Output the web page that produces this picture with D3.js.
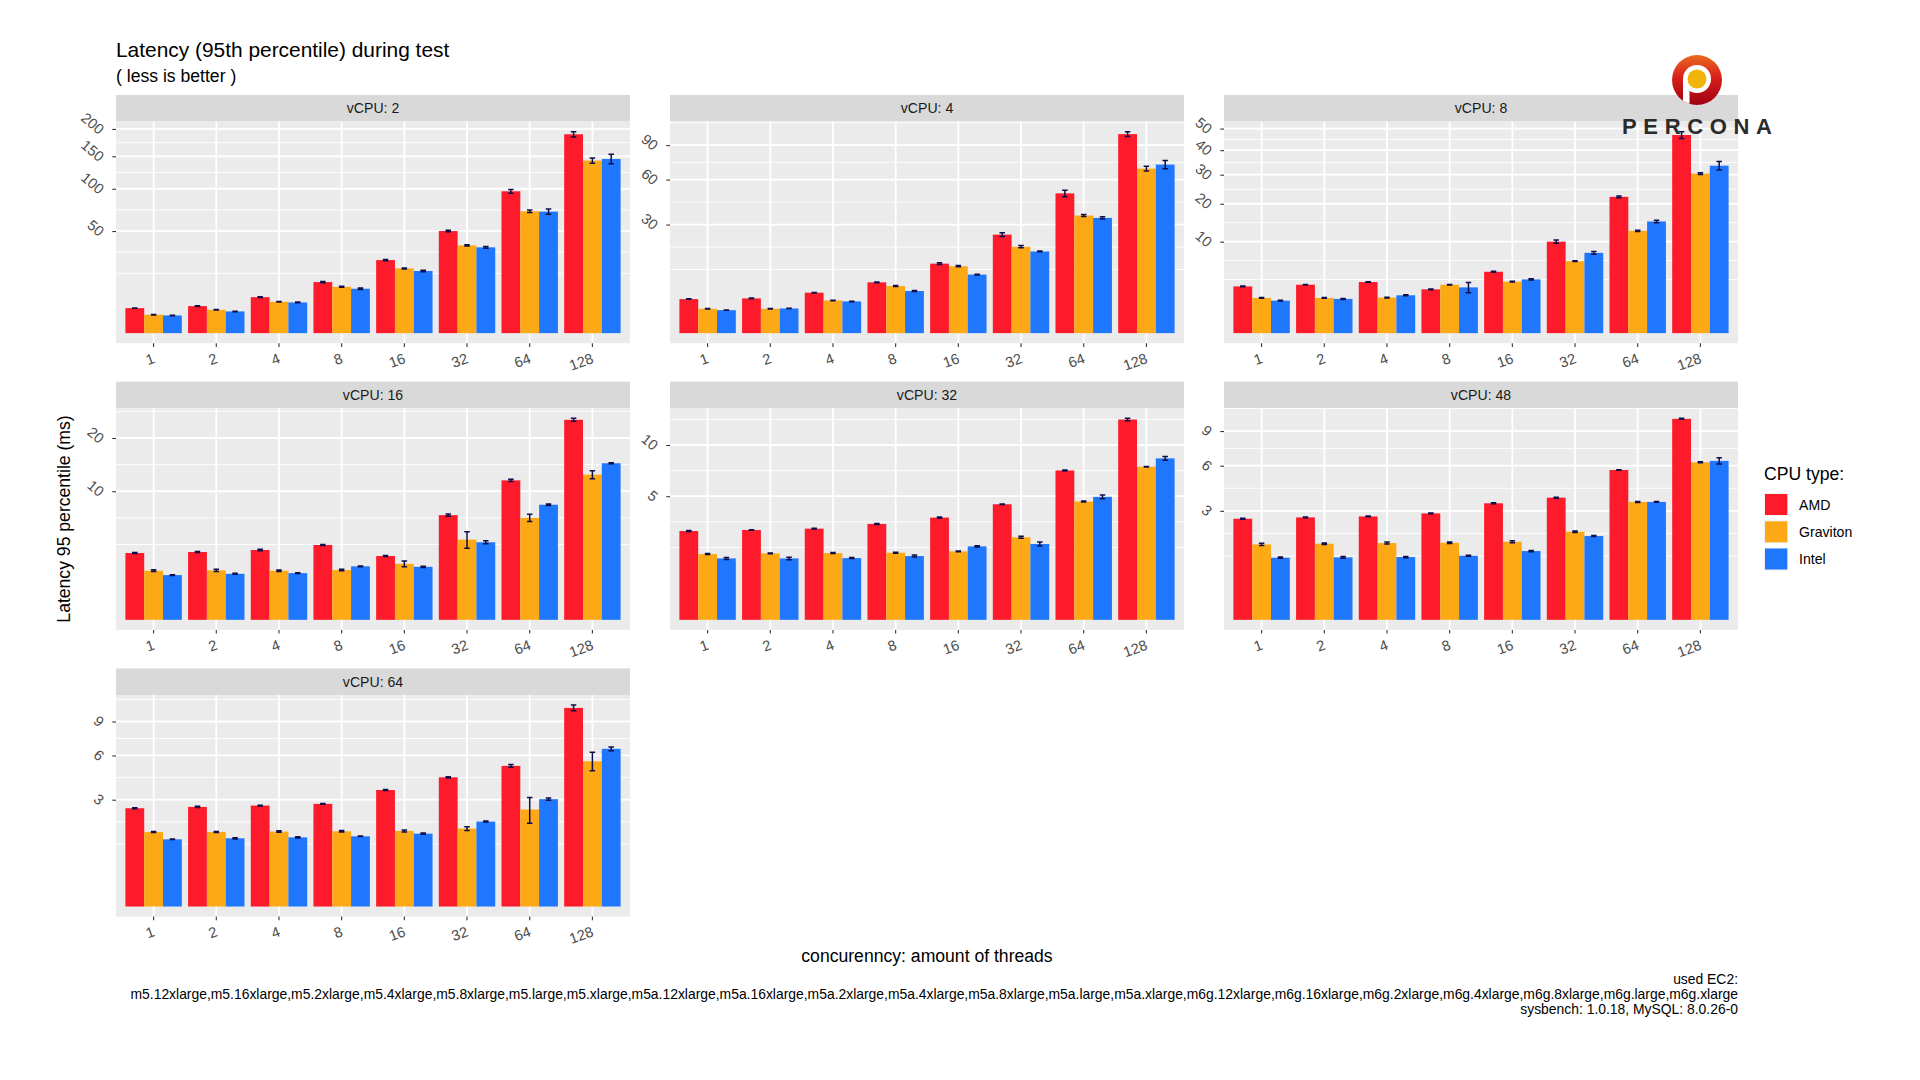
<!DOCTYPE html>
<html><head><meta charset="utf-8">
<script src="https://cdn.jsdelivr.net/npm/d3@7"></script>
<style>body{margin:0;background:#fff}svg{display:block}</style>
</head><body>
<svg id="chart" width="1920" height="1080"></svg>
<script>
// ---------------- data ----------------
const threads = ["1","2","4","8","16","32","64","128"];
const seriesNames = ["AMD","Graviton","Intel"];
const seriesColors = ["#fc1a2b","#fda916","#1e77fc"];
const vcpus = [2,4,8,16,32,48,64];

const ticks_v2  = [50,100,150,200];
const ticks_v4  = [30,60,90];
const ticks_v8  = [10,20,30,40,50];
const ticks_v16 = [10,20];
const ticks_v32 = [5,10];
const ticks_v48 = [3,6,9];
const ticks_v64 = [3,6,9];

const amd_v2   = [3.0, 3.5, 6.2, 12.5, 25.6, 50.0, 96.5, 189.7];
const grav_v2  = [1.62, 2.62, 4.72, 10.3, 20.1, 36.9, 71.2, 142.8];
const intel_v2 = [1.5, 2.26, 4.52, 9.45, 18.5, 35.3, 70.8, 145.5];
const errAmd_v2   = [0.05, 0.1, 0.15, 0.3, 0.4, 0.8, 2.5, 5];
const errGrav_v2  = [0.05, 0.06, 0.1, 0.2, 0.3, 0.5, 1.5, 4.5];
const errIntel_v2 = [0.05, 0.06, 0.1, 0.3, 0.5, 0.8, 3, 8];

const amd_v4   = [2.95, 3.07, 4.16, 6.57, 12.3, 24.7, 49.7, 100.8];
const grav_v4  = [1.51, 1.51, 2.72, 5.65, 11.4, 19.0, 35.2, 68.9];
const intel_v4 = [1.34, 1.55, 2.56, 4.51, 8.72, 16.97, 33.8, 72.3];
const errAmd_v4   = [0.04, 0.05, 0.06, 0.1, 0.35, 0.9, 2.3, 2.5];
const errGrav_v4  = [0.03, 0.03, 0.04, 0.1, 0.2, 0.5, 0.6, 2];
const errIntel_v4 = [0.02, 0.02, 0.04, 0.1, 0.12, 0.15, 0.6, 3.5];

const amd_v8   = [2.61, 2.80, 3.12, 2.29, 4.50, 10.0, 22.2, 46.9];
const grav_v8  = [1.48, 1.48, 1.51, 2.80, 3.16, 6.19, 12.5, 30.4];
const intel_v8 = [1.26, 1.40, 1.71, 2.50, 3.45, 7.70, 14.9, 33.5];
const errAmd_v8   = [0.05, 0.04, 0.04, 0.03, 0.06, 0.35, 0.3, 1.6];
const errGrav_v8  = [0.03, 0.03, 0.03, 0.04, 0.05, 0.06, 0.15, 0.3];
const errIntel_v8 = [0.03, 0.04, 0.04, 0.55, 0.07, 0.25, 0.35, 1.7];

const amd_v16   = [2.70, 2.78, 2.95, 3.39, 2.46, 6.63, 11.77, 24.2];
const grav_v16  = [1.46, 1.48, 1.46, 1.50, 1.90, 3.89, 6.29, 12.75];
const intel_v16 = [1.21, 1.28, 1.32, 1.73, 1.70, 3.64, 8.01, 14.83];
const errAmd_v16   = [0.04, 0.04, 0.06, 0.04, 0.04, 0.15, 0.2, 0.35];
const errGrav_v16  = [0.05, 0.06, 0.04, 0.05, 0.2, 0.8, 0.45, 0.7];
const errIntel_v16 = [0.02, 0.03, 0.02, 0.02, 0.04, 0.15, 0.1, 0.1];

const amd_v32   = [2.58, 2.64, 2.72, 3.01, 3.42, 4.37, 7.30, 13.13];
const grav_v32  = [1.415, 1.444, 1.458, 1.473, 1.532, 2.23, 4.58, 7.67];
const intel_v32 = [1.234, 1.234, 1.247, 1.330, 1.765, 1.88, 4.95, 8.53];
const errAmd_v32   = [0.03, 0.02, 0.02, 0.03, 0.04, 0.02, 0.05, 0.15];
const errGrav_v32  = [0.02, 0.02, 0.02, 0.02, 0.02, 0.05, 0.04, 0.03];
const errIntel_v32 = [0.04, 0.05, 0.02, 0.04, 0.03, 0.1, 0.15, 0.2];

const amd_v48   = [2.58, 2.65, 2.70, 2.86, 3.43, 3.77, 5.67, 10.20];
const grav_v48  = [1.437, 1.463, 1.489, 1.502, 1.541, 1.961, 3.51, 6.27];
const intel_v48 = [0.974, 0.984, 0.995, 1.037, 1.194, 1.773, 3.51, 6.38];
const errAmd_v48   = [0.02, 0.02, 0.02, 0.02, 0.03, 0.03, 0.02, 0.05];
const errGrav_v48  = [0.04, 0.03, 0.04, 0.03, 0.04, 0.03, 0.03, 0.04];
const errIntel_v48 = [0.02, 0.03, 0.02, 0.02, 0.02, 0.02, 0.02, 0.25];

const amd_v64   = [2.54, 2.61, 2.68, 2.77, 3.57, 4.39, 5.20, 10.37];
const grav_v64  = [1.462, 1.462, 1.476, 1.489, 1.502, 1.597, 2.475, 5.55];
const intel_v64 = [1.187, 1.223, 1.259, 1.296, 1.397, 1.898, 3.03, 6.54];
const errAmd_v64   = [0.03, 0.03, 0.02, 0.02, 0.03, 0.04, 0.1, 0.3];
const errGrav_v64  = [0.02, 0.02, 0.03, 0.03, 0.04, 0.08, 0.65, 0.7];
const errIntel_v64 = [0.01, 0.02, 0.02, 0.01, 0.02, 0.02, 0.06, 0.15];

const titleText = "Latency (95th percentile) during test";
const subtitleText = "( less is better )";
const yTitle = "Latency 95 percentile (ms)";
const xTitle = "concurenncy: amount of threads";
const legendTitle = "CPU type:";
const captionLines = [
  "used EC2:",
  "m5.12xlarge,m5.16xlarge,m5.2xlarge,m5.4xlarge,m5.8xlarge,m5.large,m5.xlarge,m5a.12xlarge,m5a.16xlarge,m5a.2xlarge,m5a.4xlarge,m5a.8xlarge,m5a.large,m5a.xlarge,m6g.12xlarge,m6g.16xlarge,m6g.2xlarge,m6g.4xlarge,m6g.8xlarge,m6g.large,m6g.xlarge",
  "sysbench: 1.0.18, MySQL: 8.0.26-0"
];

const panels = [
  {vcpu:2,  ticks:ticks_v2,  vals:[amd_v2,grav_v2,intel_v2],    errs:[errAmd_v2,errGrav_v2,errIntel_v2]},
  {vcpu:4,  ticks:ticks_v4,  vals:[amd_v4,grav_v4,intel_v4],    errs:[errAmd_v4,errGrav_v4,errIntel_v4]},
  {vcpu:8,  ticks:ticks_v8,  vals:[amd_v8,grav_v8,intel_v8],    errs:[errAmd_v8,errGrav_v8,errIntel_v8]},
  {vcpu:16, ticks:ticks_v16, vals:[amd_v16,grav_v16,intel_v16], errs:[errAmd_v16,errGrav_v16,errIntel_v16]},
  {vcpu:32, ticks:ticks_v32, vals:[amd_v32,grav_v32,intel_v32], errs:[errAmd_v32,errGrav_v32,errIntel_v32]},
  {vcpu:48, ticks:ticks_v48, vals:[amd_v48,grav_v48,intel_v48], errs:[errAmd_v48,errGrav_v48,errIntel_v48]},
  {vcpu:64, ticks:ticks_v64, vals:[amd_v64,grav_v64,intel_v64], errs:[errAmd_v64,errGrav_v64,errIntel_v64]}
];

// ---------------- drawing ----------------
const FONT = "'Liberation Sans', Arial, Helvetica, sans-serif";
const svg = d3.select("#chart").style("font-family", FONT);
svg.append("rect").attr("width",1920).attr("height",1080).attr("fill","#fff");

const colX = [116, 670, 1224];
const rowY = [95, 381.7, 668.4];
const PW = 514, SH = 26.6, PH = 221.6;
const TICKFS = 14.6;

function minorBreaks(ticks, lo, hi) {
  let b = ticks.map(Math.sqrt);
  const bd = b[1] - b[0];
  if (lo < b[0]) b = [b[0] - bd].concat(b);
  if (hi > b[b.length-1]) b = b.concat([b[b.length-1] + bd]);
  const out = [];
  for (let i = 0; i < b.length - 1; i++) out.push(b[i], (b[i] + b[i+1]) / 2);
  out.push(b[b.length-1]);
  return out.filter(s => s >= lo && s <= hi).map(s => s < 0 ? -s*s : s*s);
}

const x = d3.scaleBand().domain(threads).range([0, PW]).paddingInner(0.1).paddingOuter(0.15);
const xs = d3.scaleBand().domain(seriesNames).range([0, x.bandwidth()]);

panels.forEach((p, i) => {
  const gx = colX[i % 3], gy = rowY[Math.floor(i / 3)];
  const g = svg.append("g").attr("transform", `translate(${gx},${gy})`);
  // strip
  g.append("rect").attr("width", PW).attr("height", SH).attr("fill", "#d9d9d9");
  g.append("text").attr("x", PW/2).attr("y", SH/2).attr("dy", "0.36em")
    .attr("text-anchor", "middle").attr("font-size", 14.1).attr("fill", "#1a1a1a")
    .text("vCPU: " + p.vcpu);

  const pg = g.append("g").attr("transform", `translate(0,${SH})`);
  pg.append("rect").attr("width", PW).attr("height", PH).attr("fill", "#ebebeb");

  let maxTop = 0;
  p.vals.forEach((arr, k) => arr.forEach((v, j) => { maxTop = Math.max(maxTop, v + p.errs[k][j]); }));
  const R = Math.sqrt(maxTop);
  const lo = -0.05 * R, hi = 1.05 * R;
  const y = d3.scaleSqrt().domain([-(lo*lo), hi*hi]).range([PH, 0]);

  // minor grid
  pg.append("g").selectAll("line").data(minorBreaks(p.ticks, lo, hi)).join("line")
    .attr("x1", 0).attr("x2", PW).attr("y1", d => y(d)).attr("y2", d => y(d))
    .attr("stroke", "#fff").attr("stroke-width", 0.9);
  // major grid
  pg.append("g").selectAll("line").data(p.ticks).join("line")
    .attr("x1", 0).attr("x2", PW).attr("y1", d => y(d)).attr("y2", d => y(d))
    .attr("stroke", "#fff").attr("stroke-width", 1.8);
  pg.append("g").selectAll("line").data(threads).join("line")
    .attr("y1", 0).attr("y2", PH)
    .attr("x1", d => x(d) + x.bandwidth()/2).attr("x2", d => x(d) + x.bandwidth()/2)
    .attr("stroke", "#fff").attr("stroke-width", 1.8);

  // bars
  const rows = [];
  seriesNames.forEach((s, k) => threads.forEach((t, j) => {
    rows.push({t, s, k, v: p.vals[k][j], e: p.errs[k][j]});
  }));
  pg.append("g").selectAll("rect").data(rows).join("rect")
    .attr("x", d => x(d.t) + xs(d.s))
    .attr("width", xs.bandwidth())
    .attr("y", d => y(d.v))
    .attr("height", d => y(0) - y(d.v))
    .attr("fill", d => seriesColors[d.k]);

  // error bars
  const cw = 5.5;
  pg.append("g").selectAll("path").data(rows).join("path")
    .attr("d", d => {
      const cx = x(d.t) + xs(d.s) + xs.bandwidth()/2;
      const yt = y(d.v + d.e), yb = y(d.v - d.e);
      return `M${cx-cw/2},${yt}H${cx+cw/2}M${cx},${yt}V${yb}M${cx-cw/2},${yb}H${cx+cw/2}`;
    })
    .attr("fill", "none").attr("stroke", "#0e0e4c").attr("stroke-width", 1.5);

  // y axis
  const ya = pg.append("g").call(d3.axisLeft(y).tickValues(p.ticks).tickSize(3.7).tickFormat(d3.format("d")));
  ya.select(".domain").remove();
  ya.selectAll(".tick line").attr("stroke", "#333").attr("stroke-width", 1.1);
  ya.selectAll(".tick text")
    .attr("x", 0).attr("dy", "0.35em")
    .attr("transform", "translate(-14,1.8) rotate(40)")
    .attr("text-anchor", "end").attr("font-size", TICKFS).attr("fill", "#4d4d4d")
    .attr("font-family", FONT);

  // x axis
  const xa = pg.append("g").attr("transform", `translate(0,${PH})`).call(d3.axisBottom(x).tickSize(3.7));
  xa.select(".domain").remove();
  xa.selectAll(".tick line").attr("stroke", "#333").attr("stroke-width", 1.1);
  xa.selectAll(".tick text")
    .attr("y", 0).attr("x", 0).attr("dy", "0.72em")
    .attr("transform", "translate(-1.5,9.3) rotate(-20)")
    .attr("text-anchor", "end").attr("font-size", TICKFS).attr("fill", "#4d4d4d")
    .attr("font-family", FONT);
});

// titles
svg.append("text").attr("x", 116).attr("y", 57).attr("font-size", 20.9).attr("fill", "#000").text(titleText);
svg.append("text").attr("x", 116).attr("y", 82).attr("font-size", 17.6).attr("fill", "#000").text(subtitleText);

svg.append("text").attr("transform", "translate(64,519) rotate(-90)").attr("dy", "0.35em")
  .attr("text-anchor", "middle").attr("font-size", 17.6).attr("fill", "#000").text(yTitle);
svg.append("text").attr("x", 927).attr("y", 962).attr("text-anchor", "middle")
  .attr("font-size", 17.6).attr("fill", "#000").text(xTitle);

// caption
svg.append("g").selectAll("text").data(captionLines).join("text")
  .attr("x", 1738).attr("y", (d, i) => 984 + i * 15)
  .attr("text-anchor", "end").attr("font-size", 13.9).attr("fill", "#000").text(d => d);

// legend
const lg = svg.append("g");
lg.append("text").attr("x", 1764).attr("y", 480).attr("font-size", 17.6).attr("fill", "#000").text(legendTitle);
const keyTop = [494, 521.3, 548.5];
seriesNames.forEach((s, k) => {
  lg.append("rect").attr("x", 1764).attr("y", keyTop[k] - 1).attr("width", 24).attr("height", 23).attr("fill", "#f2f2f2");
  lg.append("rect").attr("x", 1765).attr("y", keyTop[k]).attr("width", 22.3).attr("height", 21).attr("fill", seriesColors[k]);
  lg.append("text").attr("x", 1799).attr("y", keyTop[k] + 10.5).attr("dy", "0.36em")
    .attr("font-size", 14.1).attr("fill", "#000").text(s);
});

// Percona logo
const defs = svg.append("defs");
const grad = defs.append("linearGradient").attr("id", "pgrad").attr("x1", 0).attr("y1", 0).attr("x2", 0).attr("y2", 1);
grad.append("stop").attr("offset", "0%").attr("stop-color", "#ec6a1e");
grad.append("stop").attr("offset", "45%").attr("stop-color", "#d8201c");
grad.append("stop").attr("offset", "100%").attr("stop-color", "#9e0010");
defs.append("clipPath").attr("id", "pclip").append("circle").attr("cx", 1697).attr("cy", 80).attr("r", 25);
const logo = svg.append("g");
logo.append("circle").attr("cx", 1697).attr("cy", 80).attr("r", 25).attr("fill", "url(#pgrad)");
const inner = logo.append("g").attr("clip-path", "url(#pclip)");
inner.append("rect").attr("x", 1683).attr("y", 80).attr("width", 6.5).attr("height", 30).attr("fill", "#fff");
inner.append("circle").attr("cx", 1697).attr("cy", 79).attr("r", 14).attr("fill", "#fff");
inner.append("circle").attr("cx", 1697).attr("cy", 79).attr("r", 9.5).attr("fill", "#f0b40a");
logo.append("text").attr("x", 1622).attr("y", 133.5).attr("textLength", 150).attr("lengthAdjust", "spacing")
  .attr("font-size", 22).attr("font-weight", "bold").attr("fill", "#2b2b2b").text("PERCONA");
</script>
</body></html>
